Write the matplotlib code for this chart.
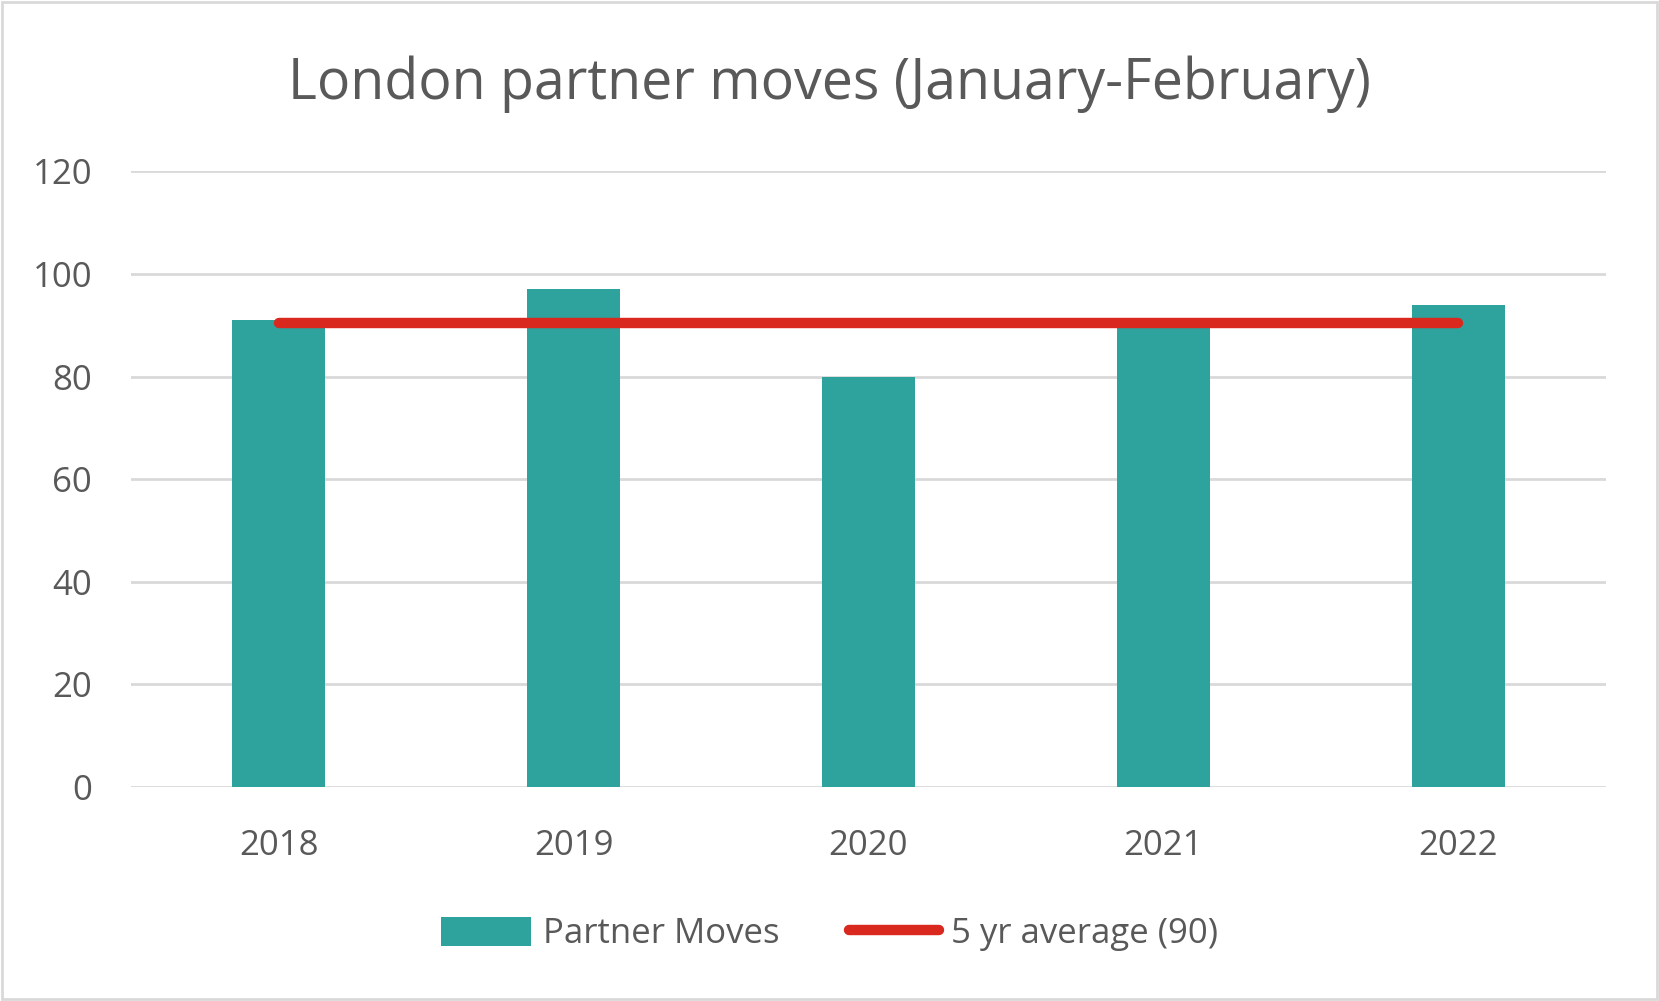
import numpy as np
import matplotlib.pyplot as plt
from matplotlib.patches import Rectangle

years = ['2018', '2019', '2020', '2021', '2022']
moves = [91, 97, 80, 90, 94]
avg = np.mean(moves)

teal = '#2EA39D'
red = '#D9291E'
grey = '#595959'

plt.rcParams['font.family'] = ['Open Sans', 'DejaVu Sans']

fig = plt.figure(figsize=(16.59, 10.01), dpi=100)
ax = fig.add_axes([0.079, 0.2138, 0.889, 0.615])

x = np.arange(len(years))
bars = ax.bar(x, moves, width=0.315, color=teal, label='Partner Moves', zorder=2)
line, = ax.plot(x, [avg] * len(x), color=red, lw=7.5, solid_capstyle='round',
                label='5 yr average (90)', zorder=3)

ax.set_xlim(-0.5, len(years) - 0.5)
ax.set_ylim(0, 120)
ax.set_yticks(np.arange(0, 121, 20))
ax.set_xticks(x)
ax.set_xticklabels(years)
ax.grid(axis='y', color='#D9D9D9', lw=2, zorder=0)
for s in ax.spines.values():
    s.set_visible(False)
ax.tick_params(length=0, labelsize=25, labelcolor=grey)
ax.tick_params(axis='x', pad=30)
ax.tick_params(axis='y', pad=28)

fig.suptitle('London partner moves (January-February)', fontsize=40,
             color=grey, y=0.945)

leg = fig.legend([bars, line], ['Partner Moves', '5 yr average (90)'],
                 loc='center', bbox_to_anchor=(0.5, 0.067), ncol=2,
                 frameon=False, fontsize=25, labelcolor=grey,
                 handlelength=2.6, handleheight=0.9, columnspacing=2.0,
                 handletextpad=0.35)

fig.patches.append(Rectangle((0.001, 0.002), 0.998, 0.996, transform=fig.transFigure,
                             fill=False, edgecolor='#D9D9D9', lw=2))

fig.savefig('out.png', dpi=100)
